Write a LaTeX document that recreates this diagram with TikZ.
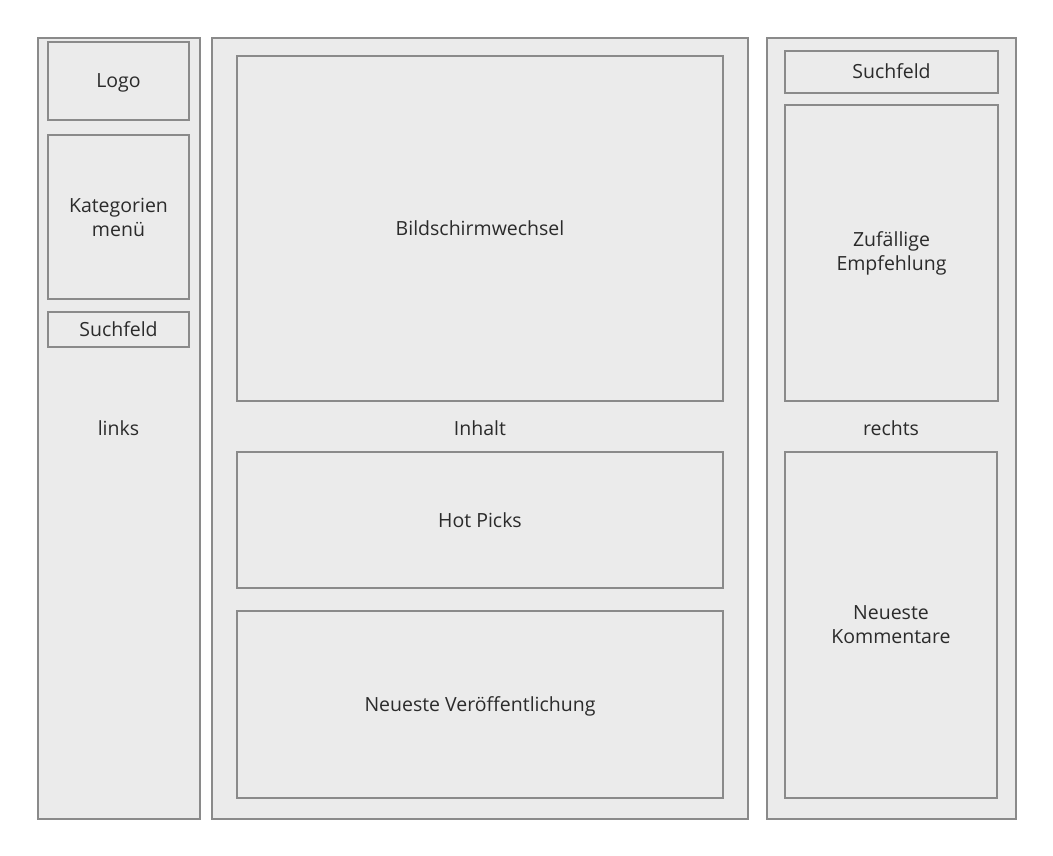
\documentclass[tikz,border=0pt]{standalone}
\usepackage{fontspec}
\setmainfont{Open Sans}
\definecolor{boxfill}{HTML}{EBEBEB}
\definecolor{boxline}{HTML}{8A8A8A}
\definecolor{boxtext}{HTML}{2B2B2B}
\begin{document}
\begin{tikzpicture}[
    x=1pt, y=-1pt,
    panel/.style={draw=boxline, fill=boxfill, line width=2.6pt, inner sep=0pt},
    box/.style={panel, align=center, text=boxtext, font=\fontsize{19.5}{24}\selectfont},
    oneline/.style={text height=14pt, text depth=0pt},
    lbl/.style={oneline, text=boxtext, font=\fontsize{19.5}{24}\selectfont},
]
\useasboundingbox (0,0) rectangle (1053,856);

% Columns
\node[panel, minimum width=162, minimum height=781] (links) at (119, 428.5) {};
\node[panel, minimum width=536, minimum height=781] (inhalt) at (480, 428.5) {};
\node[panel, minimum width=249, minimum height=781] (rechts) at (891.5, 428.5) {};

% Left column
\node[box, oneline, minimum width=141, minimum height=78] (logo) at (118.5, 81) {Logo};
\node[box, minimum width=141, minimum height=164] (kategorien) at (118.5, 217) {Kategorien\\men\"u};
\node[box, oneline, minimum width=141, minimum height=35] (suchL) at (118.5, 329.5) {Suchfeld};
\node[lbl] (linkslbl) at (118.5, 428.5) {links};

% Content
\node[box, oneline, minimum width=486, minimum height=345] (slider) at (480, 228.5) {Bildschirmwechsel};
\node[lbl] (inhaltlbl) at (480, 428.5) {Inhalt};
\node[box, oneline, minimum width=486, minimum height=136] (hotpicks) at (480, 520) {Hot Picks};
\node[box, oneline, minimum width=486, minimum height=187] (neuestev) at (480, 704.5) {Neueste Ver\"offentlichung};

% Right column
\node[box, oneline, minimum width=213, minimum height=42] (suchR) at (891.5, 72) {Suchfeld};
\node[box, minimum width=213, minimum height=296] (zufall) at (891.5, 253) {Zuf\"allige\\Empfehlung};
\node[lbl] (rechtslbl) at (891, 428.5) {rechts};
\node[box, minimum width=212, minimum height=346] (kommentare) at (891, 625) {Neueste\\Kommentare};

\end{tikzpicture}
\end{document}
